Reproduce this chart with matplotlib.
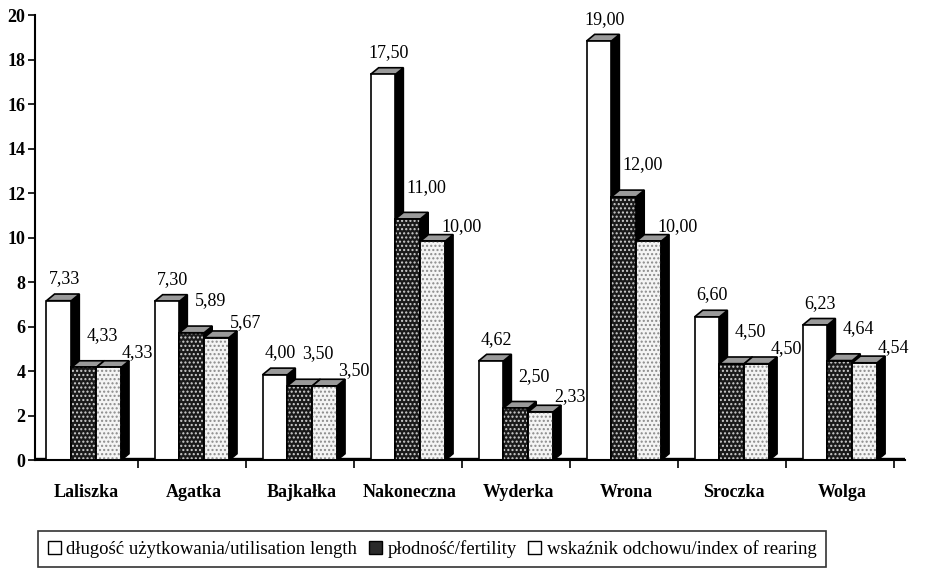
import numpy as np
import matplotlib.pyplot as plt
from matplotlib.patches import Polygon, Patch

# dane
kategorie = ['Laliszka', 'Agatka', 'Bajkałka', 'Nakoneczna', 'Wyderka', 'Wrona', 'Sroczka', 'Wolga']
dlugosc = [7.33, 7.30, 4.00, 17.50, 4.62, 19.00, 6.60, 6.23]
plodnosc = [4.33, 5.89, 3.50, 11.00, 2.50, 12.00, 4.50, 4.64]
odchow = [4.33, 5.67, 3.50, 10.00, 2.33, 10.00, 4.50, 4.54]
serie = ['długość użytkowania/utilisation length', 'płodność/fertility', 'wskaźnik odchowu/index of rearing']

plt.rcParams['font.family'] = ['Liberation Serif', 'DejaVu Serif']

fig = plt.figure(figsize=(9.25, 5.72), dpi=100)
ax = fig.add_axes([0.038, 0.195, 0.94, 0.778])

w = 0.23      # szerokosc slupka
dx = 0.075    # glebia 3D w poziomie
dy = 0.3      # glebia 3D w pionie
twarz = ['white', '#1a1a1a', '#f4f4f4']
kropki = [None, '#d0d0d0', '#8a8a8a']
lab_dx = [0.05, 0.17, 0.27]
lab_dy = [0.45, 0.9, 0.15]

x = np.arange(len(kategorie))
dane = [dlugosc, plodnosc, odchow]

# podloga miedzy grupami
ax.axhspan(-0.05, 0.12, color='black', zorder=1)

for s, vals in enumerate(dane):
    left = x - 1.5 * w + s * w
    for L, v in zip(left, vals):
        h = v - dy / 2
        side = Polygon([(L + w, 0), (L + w + dx, dy), (L + w + dx, h + dy), (L + w, h)],
                       closed=True, facecolor='black', edgecolor='black', lw=1, zorder=2 + s)
        ax.add_patch(side)
        top = Polygon([(L, h), (L + dx, h + dy), (L + w + dx, h + dy), (L + w, h)],
                      closed=True, facecolor='#9a9a9a', edgecolor='black', lw=1.2, zorder=2 + s)
        ax.add_patch(top)
        ax.bar(L, h, width=w, align='edge', color=twarz[s], edgecolor='black', lw=1.2, zorder=2 + s)
        if kropki[s] is not None:
            ax.bar(L, h, width=w, align='edge', color='none', edgecolor=kropki[s], hatch='....', lw=0, zorder=2 + s)
            ax.bar(L, h, width=w, align='edge', color='none', edgecolor='black', lw=1.2, zorder=2 + s)
        ax.text(L + w / 2 + lab_dx[s], v + lab_dy[s], f'{v:.2f}'.replace('.', ','),
                ha='center', va='bottom', fontsize=13, zorder=10)

ax.set_xlim(-0.45, 7.6)
ax.set_ylim(0, 20)
ax.set_yticks(range(0, 21, 2))
ax.set_yticklabels([str(t) for t in range(0, 21, 2)], fontsize=13, fontweight='bold')
ax.set_xticks(x + 0.5)
ax.set_xticklabels([])
ax.set_xticks(x + 0.02, minor=True)
ax.set_xticklabels(kategorie, minor=True, fontsize=13, fontweight='bold')
ax.tick_params(axis='x', which='minor', length=0, pad=17)
ax.tick_params(axis='x', which='major', length=6, width=1.2)
ax.tick_params(axis='y', length=5, width=1.2, pad=2)
for sp in ['top', 'right']:
    ax.spines[sp].set_visible(False)
ax.spines['left'].set_linewidth(1.5)
ax.spines['bottom'].set_linewidth(1.5)

uchwyty = [Patch(facecolor='white', edgecolor='black'),
           Patch(facecolor='#2a2a2a', edgecolor='black'),
           Patch(facecolor='white', edgecolor='black')]
leg = fig.legend(uchwyty, serie, loc='center', bbox_to_anchor=(432 / 925, 1 - 549 / 572),
                 ncol=3, fontsize=13.5, frameon=True, fancybox=False, edgecolor='black',
                 handlelength=0.7, handleheight=0.7, handletextpad=0.3, columnspacing=0.6,
                 borderpad=0.5)
leg.get_frame().set_linewidth(1.2)

fig.savefig('out.png', dpi=100)
